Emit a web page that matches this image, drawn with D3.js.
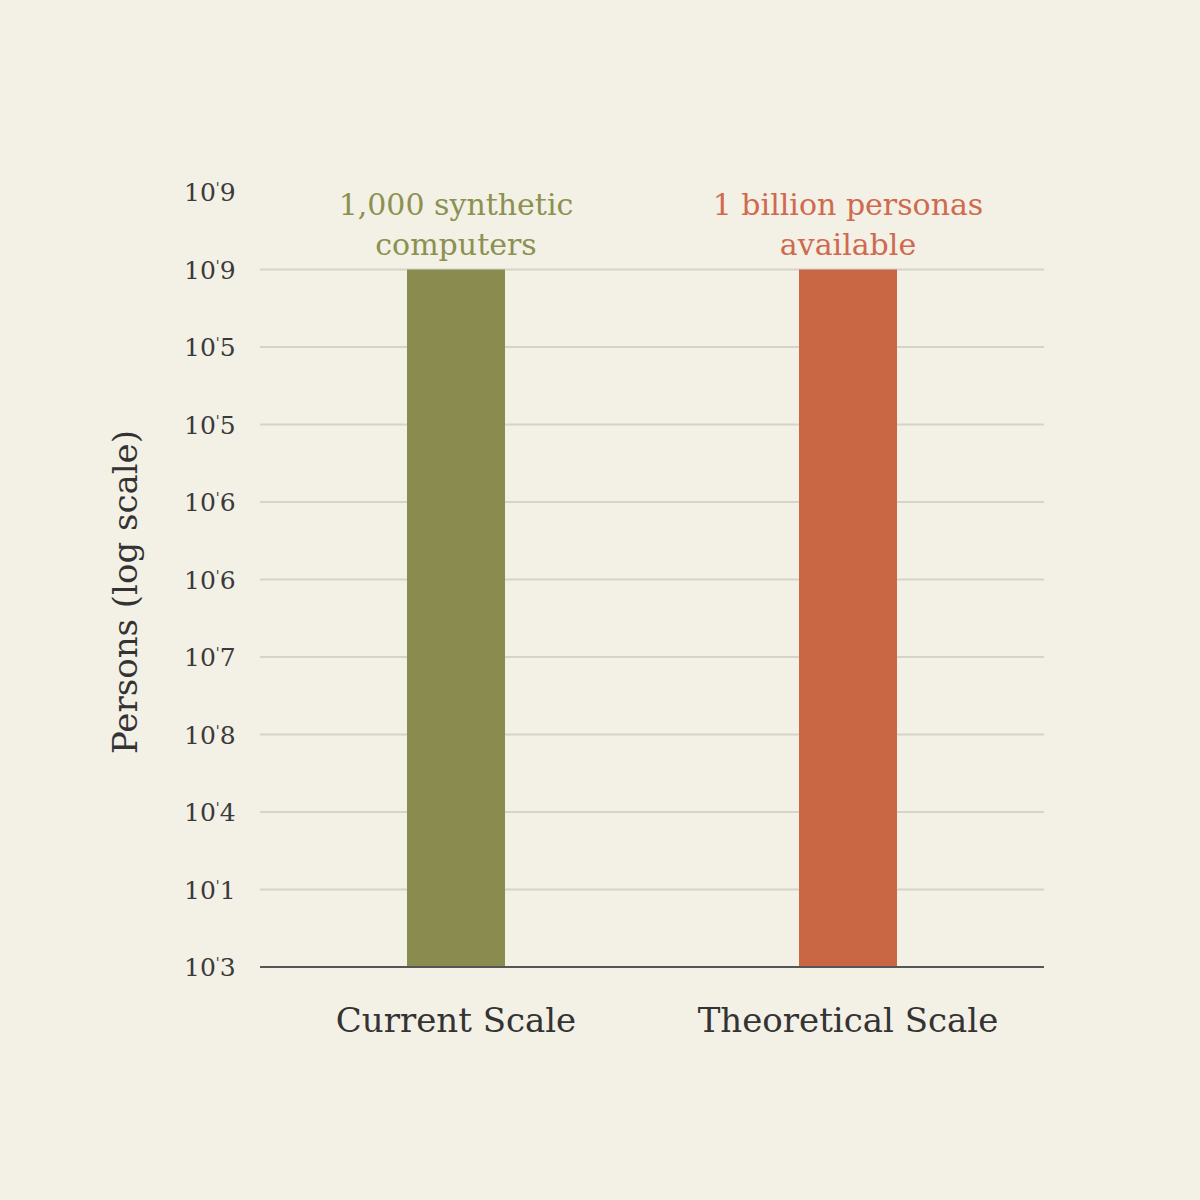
<!DOCTYPE html>
<html>
<head>
<meta charset="utf-8">
<script src="https://cdn.jsdelivr.net/npm/d3@7"></script>
<style>
  body { margin: 0; background: #f3f0e6; }
  svg { display: block; }
</style>
</head>
<body>
<svg id="chart" width="1200" height="1200"></svg>
<script>
// tick labels as printed, bottom to top
const tickExps = ["3", "1", "4", "8", "7", "6", "6", "5", "5", "9", "9"];
const categories = ["Current Scale", "Theoretical Scale"];
// bar heights given as tick position (0 = baseline)
const barValues = [9, 9];
const annotations = [["1,000 synthetic", "computers"], ["1 billion personas", "available"]];
const barColors = ["#8a8b4e", "#c96745"];
const noteColors = ["#8b9150", "#cf6a4e"];

const svg = d3.select("#chart");
const serif = "'DejaVu Serif', 'Liberation Serif', serif";

svg.append("rect").attr("width", 1200).attr("height", 1200).attr("fill", "#f3f0e6");

// y: tick index -> pixel
let y = d3.scaleLinear().domain([0, 10]).range([967, 192]);
let x = d3.scaleBand().domain(categories).range([260, 1044]).paddingInner(0.75).paddingOuter(0.375);

// gridlines (index 1..9)
svg.append("g").selectAll("line")
    .data(d3.range(1, 10))
    .join("line")
    .attr("x1", 260).attr("x2", 1044)
    .attr("y1", d => y(d)).attr("y2", d => y(d))
    .attr("stroke", "#d6d3c8").attr("stroke-width", 2);

// bars
svg.append("g").selectAll("rect")
    .data(categories)
    .join("rect")
    .attr("x", d => x(d))
    .attr("width", x.bandwidth())
    .attr("y", (d, i) => y(barValues[i]))
    .attr("height", (d, i) => y(0) - y(barValues[i]))
    .attr("fill", (d, i) => barColors[i]);

// baseline
svg.append("line").attr("x1", 260).attr("x2", 1044)
    .attr("y1", y(0)).attr("y2", y(0))
    .attr("stroke", "#555").attr("stroke-width", 2);

// tick labels
let tl = svg.append("g").selectAll("text")
    .data(tickExps)
    .join("text")
    .attr("x", 184)
    .attr("y", (d, i) => y(i) + 9)
    .attr("font-family", serif).attr("font-size", 25).attr("fill", "#3a3a3a");
tl.append("tspan").text("10");
tl.append("tspan").attr("font-size", 14).attr("dy", -8).text("'");
tl.append("tspan").attr("dy", 8).text(d => d);

// category labels
svg.append("g").selectAll("text")
    .data(categories)
    .join("text")
    .attr("x", d => x(d) + x.bandwidth() / 2)
    .attr("y", 1032)
    .attr("text-anchor", "middle")
    .attr("font-family", serif).attr("font-size", 34).attr("fill", "#333")
    .text(d => d);

// annotations above bars
categories.forEach((c, i) => {
    annotations[i].forEach((line, j) => {
        svg.append("text")
            .attr("x", x(c) + x.bandwidth() / 2)
            .attr("y", 215 + j * 40)
            .attr("text-anchor", "middle")
            .attr("font-family", serif).attr("font-size", 30)
            .attr("fill", noteColors[i])
            .text(line);
    });
});

// y title
svg.append("text")
    .attr("transform", "translate(137,592) rotate(-90)")
    .attr("text-anchor", "middle")
    .attr("font-family", serif).attr("font-size", 34).attr("fill", "#333")
    .text("Persons (log scale)");
</script>
</body>
</html>
